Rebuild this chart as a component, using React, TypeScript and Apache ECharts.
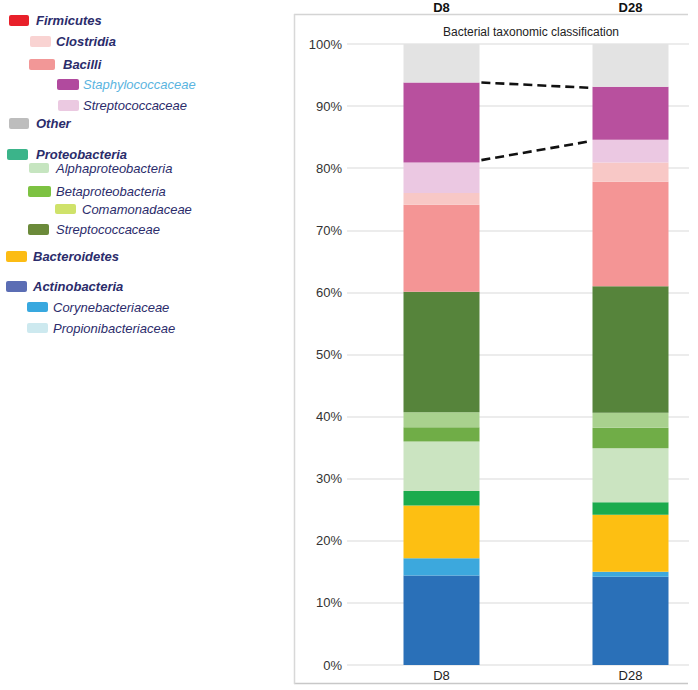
import React, { useEffect, useRef } from "react";
import * as echarts from "echarts";

const categories = ["D8", "D28"];
const yTicks = [0, 10, 20, 30, 40, 50, 60, 70, 80, 90, 100];

// stacked segments, bottom to top (percent)
const seriesNames = [
  "Actinobacteria",
  "Corynebacteriaceae",
  "Bacteroidetes",
  "Proteobacteria",
  "Alphaproteobacteria",
  "Betaproteobacteria",
  "Comamonadaceae",
  "Streptococcaceae (Proteobacteria)",
  "Bacilli",
  "Clostridia",
  "Streptococcaceae",
  "Staphylococcaceae",
  "Other",
];
const d8Values = [14.4, 2.8, 8.5, 2.3, 8.0, 2.3, 2.4, 19.4, 14.0, 1.9, 4.9, 12.9, 6.2];
const d28Values = [14.2, 0.8, 9.2, 2.0, 8.7, 3.3, 2.4, 20.4, 16.8, 3.1, 3.7, 8.5, 6.9];
const barColors = [
  "#2a70b8",
  "#3ca8dd",
  "#fdbf12",
  "#1bab4d",
  "#cbe4c1",
  "#70ad47",
  "#a9d18e",
  "#56843b",
  "#f49595",
  "#f8c8c6",
  "#ebc8e2",
  "#b8509e",
  "#e3e3e3",
];

// legend (hierarchical)
const legendLabels = [
  "Firmicutes",
  "Clostridia",
  "Bacilli",
  "Staphylococcaceae",
  "Streptococcaceae",
  "Other",
  "Proteobacteria",
  "Alphaproteobacteria",
  "Betaproteobacteria",
  "Comamonadaceae",
  "Streptococcaceae",
  "Bacteroidetes",
  "Actinobacteria",
  "Corynebacteriaceae",
  "Propionibacteriaceae",
];
const legendColors = [
  "#e8202a",
  "#f9d3d2",
  "#f29797",
  "#b14a9e",
  "#ebc9e1",
  "#bdbdbd",
  "#3bb48a",
  "#c6e5c0",
  "#7dc242",
  "#cfe26a",
  "#6b8a3a",
  "#fcbc14",
  "#5b6db4",
  "#38a8df",
  "#cde9ef",
];
const legendBold = [true, true, true, false, false, true, true, false, false, false, false, true, true, false, false];
const legendTextColors = legendLabels.map((_, i) => (i === 3 ? "#5ab4e0" : "#2b2c6b"));
// layout of legend rows: [rectX, rectY, rectW, rectH, textX]
const legendLayout = [
  [9, 15, 20, 11, 36],
  [30, 36, 21, 11, 56],
  [29, 59, 26, 11, 63],
  [57, 79, 22, 11, 83],
  [58, 100, 21, 11, 83],
  [9, 118, 20, 11, 36],
  [7, 149, 21, 11, 36],
  [29, 163, 20, 10, 56],
  [28, 186, 23, 11, 56],
  [55, 204, 21, 10, 82],
  [28, 224, 21, 11, 56],
  [6, 251, 21, 11, 33],
  [6, 281, 21, 11, 33],
  [27, 302, 21, 10, 53],
  [27, 323, 21, 10, 53],
];

const FONT = "'Liberation Sans', Arial, sans-serif";

export default function App() {
  const ref = useRef<HTMLDivElement>(null);

  useEffect(() => {
    if (!ref.current) return;
    const chart = echarts.init(ref.current, null, { renderer: "svg" });

    const gridLeft = 347;
    const gridWidth = 378;
    const barWidth = 76;
    const nCat = categories.length;
    const halfBar = (barWidth / 2 / gridWidth) * nCat;
    const xPos = categories.map((_, i) => i + 0.5);

    const bars = seriesNames.map((name, si) => ({
      name,
      type: "bar",
      stack: "total",
      barWidth,
      xAxisIndex: 0,
      itemStyle: { color: barColors[si] },
      data: [d8Values[si], d28Values[si]],
    }));

    const cum = (vals: number[], n: number) => vals.slice(0, n).reduce((a, b) => a + b, 0);
    const staphIdx = seriesNames.indexOf("Staphylococcaceae");
    const topD8 = cum(d8Values, staphIdx + 1);
    const botD8 = cum(d8Values, staphIdx);
    const topD28 = cum(d28Values, staphIdx + 1);
    const botD28 = cum(d28Values, staphIdx);

    const dashStyle = { color: "#111", width: 2.6, type: [9, 5] };
    const lines = [
      [
        [xPos[0] + halfBar + 0.01, topD8],
        [xPos[1] - halfBar - 0.02, topD28 - 0.15],
      ],
      [
        [xPos[0] + halfBar + 0.01, botD8 + 0.4],
        [xPos[1] - halfBar - 0.02, botD28 - 0.3],
      ],
    ].map((data) => ({
      type: "line",
      xAxisIndex: 2,
      data,
      symbol: "none",
      silent: true,
      lineStyle: dashStyle,
      z: 5,
    }));

    const legendGraphics: any[] = [];
    legendLabels.forEach((label, i) => {
      const [rx, ry, rw, rh, tx] = legendLayout[i];
      legendGraphics.push({
        type: "rect",
        shape: { x: rx, y: ry, width: rw, height: rh, r: 2 },
        style: { fill: legendColors[i] },
      });
      legendGraphics.push({
        type: "text",
        x: tx,
        y: ry + rh / 2,
        style: {
          text: label,
          fill: legendTextColors[i],
          font: `italic ${legendBold[i] ? "bold " : ""}13px ${FONT}`,
          verticalAlign: "middle",
          align: "left",
        },
      });
    });

    const frame = [
      { type: "rect", shape: { x: 689, y: 16, width: 12, height: 666 }, style: { fill: "#fff" }, z: 50 },
      { type: "line", shape: { x1: 294, y1: 14.5, x2: 688, y2: 14.5 }, style: { stroke: "#d4d4d4", lineWidth: 1.5 } },
      { type: "line", shape: { x1: 294, y1: 683.5, x2: 688, y2: 683.5 }, style: { stroke: "#c8c8c8", lineWidth: 1.5 } },
      { type: "line", shape: { x1: 294.5, y1: 14, x2: 294.5, y2: 684 }, style: { stroke: "#d8d8d8", lineWidth: 1.5 } },
    ];

    chart.setOption({
      animation: false,
      title: {
        text: "Bacterial taxonomic classification",
        left: 531,
        top: 26,
        textAlign: "center",
        textStyle: { fontFamily: FONT, fontSize: 12, fontWeight: "normal", color: "#222" },
        padding: 0,
      },
      grid: {
        left: gridLeft,
        top: 44,
        width: gridWidth,
        height: 621,
        containLabel: false,
        outerBoundsMode: "none",
      },
      xAxis: [
        {
          type: "category",
          data: categories,
          position: "bottom",
          axisLine: { show: false },
          axisTick: { show: false },
          splitLine: { show: false },
          axisLabel: { fontFamily: FONT, fontSize: 13, color: "#222", margin: 4 },
        },
        {
          type: "category",
          data: categories,
          position: "top",
          axisLine: { show: false },
          axisTick: { show: false },
          splitLine: { show: false },
          axisLabel: { fontFamily: FONT, fontSize: 13, fontWeight: "bold", color: "#111", margin: 30 },
        },
        {
          type: "value",
          min: 0,
          max: nCat,
          show: false,
        },
      ],
      yAxis: {
        type: "value",
        min: yTicks[0],
        max: yTicks[yTicks.length - 1],
        interval: 10,
        axisLine: { show: false },
        axisTick: { show: false },
        splitLine: { lineStyle: { color: "#e6e6e6", width: 1.5 } },
        axisLabel: {
          formatter: "{value}%",
          fontFamily: FONT,
          fontSize: 13,
          color: "#333",
          margin: 5,
        },
      },
      series: [...bars, ...lines],
      graphic: [...frame, ...legendGraphics],
    });

    return () => chart.dispose();
  }, []);

  return (
    <div
      ref={ref}
      style={{ position: "absolute", left: 0, top: 0, width: 698, height: 690, background: "#fff" }}
    />
  );
}
